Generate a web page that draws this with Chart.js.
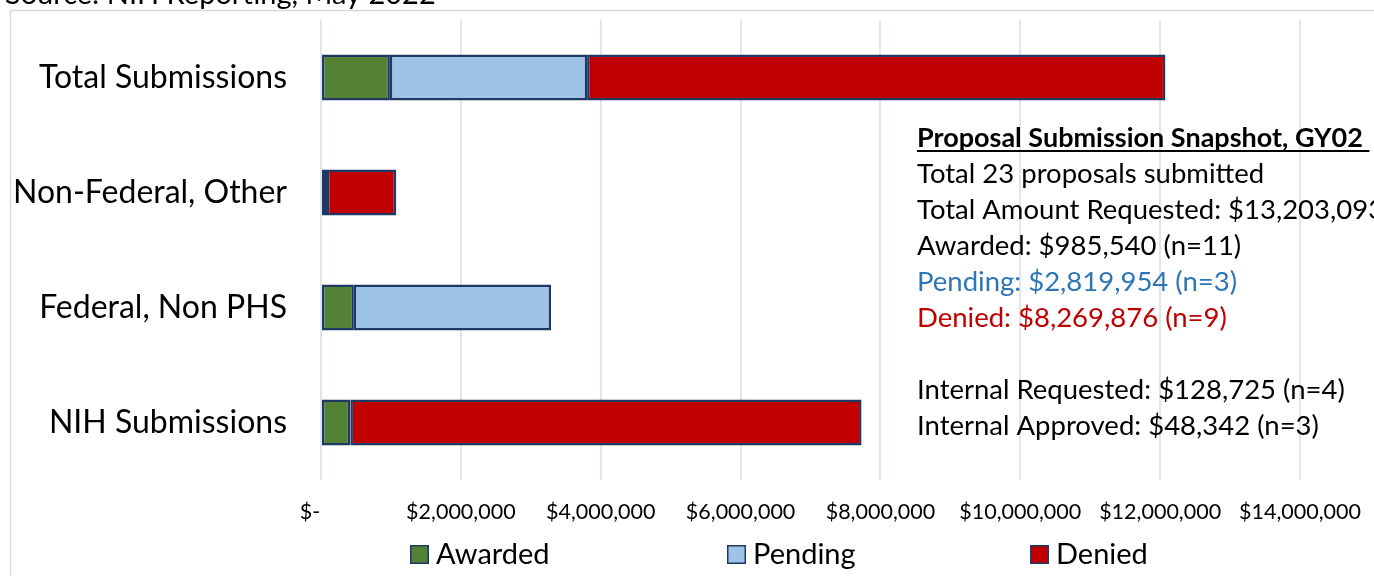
<!DOCTYPE html>
<html><head><meta charset="utf-8">
<script src="https://cdn.jsdelivr.net/npm/chart.js@4.4.0/dist/chart.umd.min.js"></script>
<style>html,body{margin:0;padding:0;background:#fff;} canvas{display:block;}</style>
</head><body>
<canvas id="c" width="1374" height="576"></canvas>
<script>
const categories = ['Total Submissions', 'Non-Federal, Other', 'Federal, Non PHS', 'NIH Submissions'];
const seriesNames = ['Awarded', 'Pending', 'Denied'];
const awarded = [985540, 86000, 470000, 420000];
const pending = [2819954, null, 2819954, null];
const denied = [8269876, 990000, null, 7310000];
const xTickValues = [0, 2000000, 4000000, 6000000, 8000000, 10000000, 12000000, 14000000];
const sourceNote = 'Source: NIH Reporting, May 2022';
const snapshotTitle = 'Proposal Submission Snapshot, GY02';
const snapshotLines = [
  'Total 23 proposals submitted',
  'Total Amount Requested: $13,203,093',
  'Awarded: $985,540 (n=11)',
  'Pending: $2,819,954 (n=3)',
  'Denied: $8,269,876 (n=9)',
  '',
  'Internal Requested: $128,725 (n=4)',
  'Internal Approved: $48,342 (n=3)'
];
const snapshotColors = ['#000', '#000', '#000', '#2e75b6', '#c00000', '#000', '#000', '#000'];

const FONT = 'Lato, "Liberation Sans", sans-serif';
const colors = ['#548235', '#9dc3e6', '#c00000'];
const edge = '#1f3864';

function fmtMoney(v) {
  if (v === 0) return '$-    ';
  return '$' + v.toLocaleString('en-US');
}

const frame = {
  id: 'frame',
  beforeDraw(chart) {
    const ctx = chart.ctx;
    ctx.save();
    ctx.fillStyle = '#fff';
    ctx.fillRect(0, 0, chart.width, chart.height);
    ctx.strokeStyle = '#d9d9d9';
    ctx.lineWidth = 1.5;
    ctx.strokeRect(10.5, 10.5, 1500, 700);
    ctx.fillStyle = '#000';
    ctx.font = '29px ' + FONT;
    ctx.textBaseline = 'alphabetic';
    ctx.fillText(sourceNote, 5, 4);
    ctx.restore();
  },
  afterDraw(chart) {
    const ctx = chart.ctx;
    ctx.save();
    // legend
    const lx = [410, 727, 1030];
    ctx.font = '29px ' + FONT;
    ctx.textBaseline = 'middle';
    chart.data.datasets.forEach((ds, i) => {
      ctx.fillStyle = ds.backgroundColor;
      ctx.fillRect(lx[i], 545, 19, 19);
      ctx.strokeStyle = edge;
      ctx.lineWidth = 1.5;
      ctx.strokeRect(lx[i] + 0.75, 545.75, 17.5, 17.5);
      ctx.fillStyle = '#000';
      ctx.fillText(ds.label, lx[i] + 26, 555);
    });
    // snapshot text
    const tx = 917;
    ctx.textBaseline = 'alphabetic';
    ctx.font = 'bold 27px ' + FONT;
    ctx.fillStyle = '#000';
    ctx.fillText(snapshotTitle, tx, 147);
    const w = ctx.measureText(snapshotTitle + ' ').width;
    ctx.fillRect(tx, 150, w, 2);
    ctx.font = '27.5px ' + FONT;
    snapshotLines.forEach((t, i) => {
      ctx.fillStyle = snapshotColors[i];
      ctx.fillText(t, tx, 183 + i * 36);
    });
    ctx.restore();
  }
};

new Chart(document.getElementById('c'), {
  type: 'bar',
  data: {
    labels: categories,
    datasets: [
      { label: seriesNames[0], data: awarded, backgroundColor: colors[0] },
      { label: seriesNames[1], data: pending, backgroundColor: colors[1] },
      { label: seriesNames[2], data: denied, backgroundColor: colors[2] }
    ].map(d => Object.assign(d, { borderColor: edge, borderWidth: 2.5, borderSkipped: false, barPercentage: 0.4, categoryPercentage: 1 }))
  },
  options: {
    indexAxis: 'y',
    responsive: false,
    animation: false,
    devicePixelRatio: 1,
    layout: { padding: { top: 20, right: 74, left: 0, bottom: 0 } },
    plugins: { legend: { display: false }, tooltip: { enabled: false } },
    scales: {
      x: {
        stacked: true,
        min: 0, max: 14000000,
        afterBuildTicks(s) { s.ticks = xTickValues.map(v => ({ value: v })); },
        afterFit(s) { s.height = 96; s.paddingLeft = 0; s.paddingRight = 0; },
        grid: { color: '#e1e5ec', lineWidth: 2, drawTicks: false },
        border: { display: false },
        ticks: { callback: v => fmtMoney(v), font: { family: FONT, size: 21.5 }, color: '#000', padding: 19, maxRotation: 0, autoSkip: false }
      },
      y: {
        stacked: true,
        afterFit(s) { s.width = 321; s.paddingTop = 0; s.paddingBottom = 0; },
        grid: { display: false, drawTicks: false },
        border: { display: false },
        ticks: { font: { family: FONT, size: 32 }, color: '#000', padding: 34 }
      }
    }
  },
  plugins: [frame]
});
</script>
</body></html>
